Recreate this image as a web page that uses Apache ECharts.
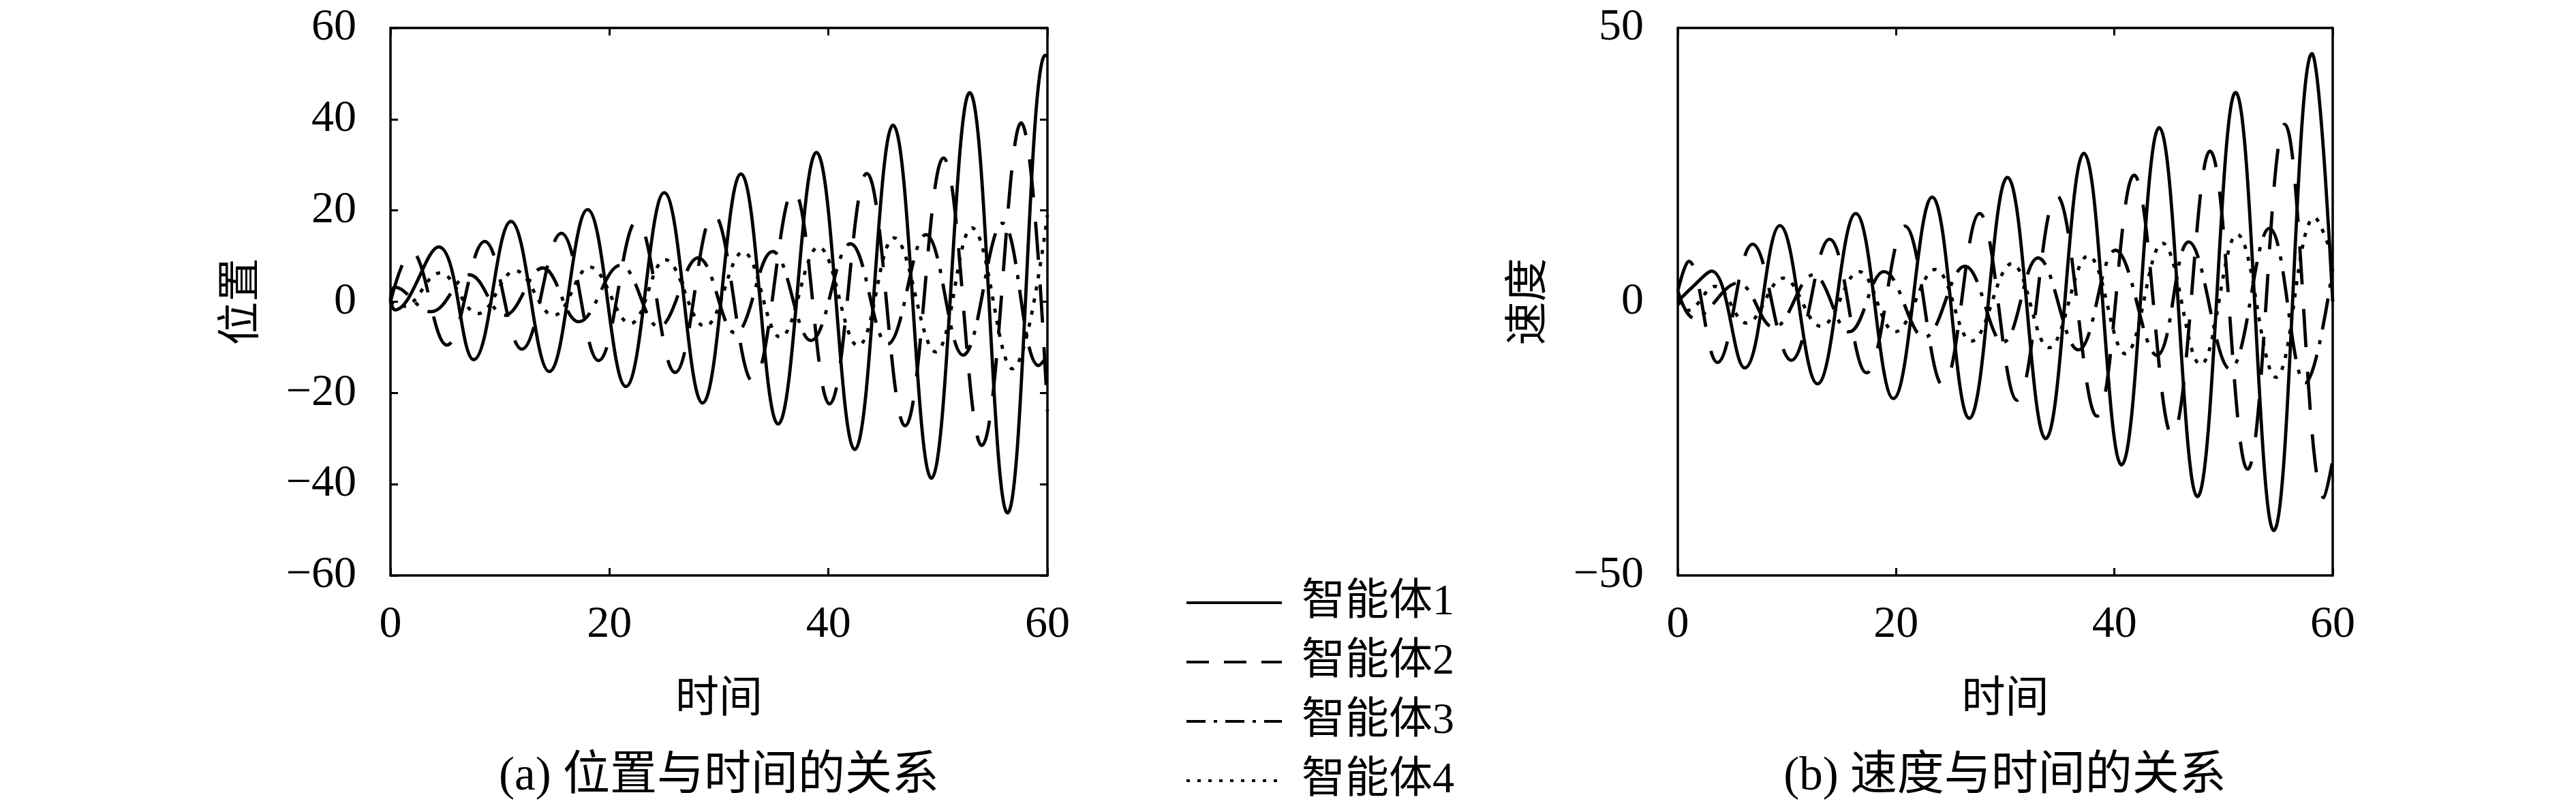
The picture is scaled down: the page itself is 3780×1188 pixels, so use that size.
<!DOCTYPE html>
<html>
<head>
<meta charset="utf-8">
<title>位置与速度</title>
<script src="https://cdn.jsdelivr.net/npm/echarts@6/dist/echarts.min.js"></script>
<style>
html, body { margin: 0; padding: 0; background: #fff; }
#main { width: 3780px; height: 1188px; }
</style>
</head>
<body>
<div id="main"></div>
<script>
// (a) 位置 —— 读取的峰谷点
const pos1T = [0, 0.4, 4.4, 7.6, 11.0, 14.5, 18.0, 21.5, 25.0, 28.5, 32.0, 35.4, 38.9, 42.4, 45.9, 49.4, 52.9, 56.35, 59.8, 60]
const pos1V = [0, -1.8, 12, -12.7, 17.6, -15.3, 20.2, -18.6, 23.9, -22.2, 28, -26.8, 32.7, -32.4, 38.7, -38.7, 45.8, -46.3, 54, 53.8]
const pos2T = [0, 1.9, 5.15, 8.6, 12.0, 15.6, 19.0, 22.5, 26.0, 29.5, 33.1, 36.8, 40.1, 43.5, 47.0, 50.5, 54.0, 57.6, 60]
const pos2V = [0, 11, -9.5, 13.2, -10.4, 15, -12.9, 17.7, -15.5, 19.2, -17.5, 24.4, -22.4, 28.1, -27.2, 31.5, -31.5, 39.2, -24]
const pos3T = [0, 0.4, 3.7, 7.2, 10.4, 13.9, 17.2, 21.0, 24.5, 28.1, 31.5, 34.9, 38.4, 42.0, 45.4, 48.9, 52.3, 55.9, 59.2, 60]
const pos3V = [0, 3.2, -2.2, 5.9, -3, 7.4, -4.4, 8, -5.5, 9.6, -6.9, 11, -8.5, 12.7, -9.3, 14.7, -11.7, 17.2, -14, -12]
const pos4T = [0, 1.2, 4.5, 8.0, 11.4, 14.9, 18.2, 21.9, 25.1, 28.7, 32.2, 35.6, 39.1, 42.7, 46.0, 49.8, 53.1, 56.8, 60]
const pos4V = [0, -1, 6.3, -2.6, 6.8, -3.0, 7.6, -4.8, 9.2, -5.4, 10.9, -7.8, 12, -9.7, 14, -11, 16.2, -14.7, 19]

// (b) 速度
const vel1T = [0, 1.3, 3.1, 6.13, 9.35, 12.8, 16.3, 19.75, 23.3, 26.7, 30.2, 33.7, 37.2, 40.65, 44.1, 47.6, 51.1, 54.6, 58.1, 60]
const vel1V = [0, 2.6, 5.6, -12.1, 13.9, -15.0, 16.1, -17.7, 19.1, -21.3, 22.7, -25, 27.1, -29.8, 31.8, -35.6, 38.2, -41.8, 45.3, 0]
const vel2T = [0, 1.0, 3.64, 6.86, 10.4, 13.9, 17.3, 20.8, 24.3, 27.65, 31.1, 34.7, 38.4, 41.8, 45.3, 48.76, 52.2, 55.6, 59.2, 60]
const vel2V = [2, 7.4, -11.1, 10.5, -10.7, 11.4, -13, 13.8, -15.3, 16.1, -18, 19.4, -20.9, 23.1, -24.4, 27.5, -30.6, 32.4, -35.8, -29]
const vel3T = [0, 1.5, 5.5, 8.8, 12.4, 15.7, 18.9, 22.6, 26.3, 29.8, 33.0, 36.7, 40.1, 43.9, 46.8, 50.6, 54.2, 57.5, 60]
const vel3V = [2, -3, 3.4, -4.7, 4.9, -5.5, 5.5, -6.5, 6.5, -7.4, 8, -8.8, 9.4, -9.8, 10.9, -12.3, 13.4, -14.8, 6]
const vel4T = [0, 0.9, 3.4, 6.3, 9.67, 13.1, 16.6, 19.9, 23.6, 26.9, 30.6, 34.0, 37.6, 41.0, 44.4, 47.9, 51.25, 54.8, 58.35, 60]
const vel4V = [0, -1.6, 2.8, -3.9, 4.3, -4.5, 5.5, -5.5, 5.9, -7.2, 6.95, -8.4, 8.4, -9.5, 10.7, -11.5, 12.3, -13.8, 15.4, 8]

const names = ['智能体1', '智能体2', '智能体3', '智能体4']
const captions = ['(a) 位置与时间的关系', '(b) 速度与时间的关系']
const yNames = ['位置', '速度']

const FONT = "'Liberation Serif', 'Noto Sans CJK SC', serif"
const zip = (t, v) => t.map((x, i) => [x, v[i]])
const minus = v => (v < 0 ? '\u2212' + Math.abs(v) : String(v))

const posData = [zip(pos1T, pos1V), zip(pos2T, pos2V), zip(pos3T, pos3V), zip(pos4T, pos4V)]
const velData = [zip(vel1T, vel1V), zip(vel2T, vel2V), zip(vel3T, vel3V), zip(vel4T, vel4V)]

// 线型：实线、虚线、点划线、点线
const plotDash = ['solid', [56, 36], [46, 16, 6, 16], [6, 12]]
const legendDash = ['solid', [33, 22], [28, 12, 5, 12], [5, 11]]

const frameLine = { show: true, onZero: false, lineStyle: { color: '#000', width: 3.5 } }
const tick = { show: true, inside: true, length: 11, lineStyle: { color: '#000', width: 3 } }
const noTick = { show: false }

function xAxes(grid) {
  return [
    {
      gridIndex: grid, type: 'value', min: 0, max: 60, interval: 20, position: 'bottom',
      axisLine: frameLine, axisTick: tick, splitLine: { show: false },
      axisLabel: { margin: 40, fontSize: 66, fontFamily: FONT, color: '#000' },
      name: '时间', nameLocation: 'middle', nameGap: 151,
      nameTextStyle: { fontSize: 64, fontFamily: FONT, color: '#000' }
    },
    {
      gridIndex: grid, type: 'value', min: 0, max: 60, interval: 20, position: 'top',
      axisLine: frameLine, axisTick: tick, splitLine: { show: false }, axisLabel: { show: false }
    }
  ]
}

function yAxes(grid, lim, step, showTick) {
  return [
    {
      gridIndex: grid, type: 'value', min: -lim, max: lim, interval: step, position: 'left',
      axisLine: frameLine, axisTick: showTick ? tick : noTick, splitLine: { show: false },
      axisLabel: { margin: 50, fontSize: 66, fontFamily: FONT, color: '#000', formatter: minus },
      name: yNames[grid], nameLocation: 'middle', nameGap: 185,
      nameTextStyle: { fontSize: 64, fontFamily: FONT, color: '#000' }
    },
    {
      gridIndex: grid, type: 'value', min: -lim, max: lim, interval: step, position: 'right',
      axisLine: frameLine, axisTick: showTick ? tick : noTick, splitLine: { show: false }, axisLabel: { show: false }
    }
  ]
}

const series = []
;[posData, velData].forEach((set, g) => {
  set.forEach((d, i) => {
    series.push({
      name: names[i], type: 'line', data: d,
      xAxisIndex: g * 2, yAxisIndex: g * 2,
      smooth: 0.4, symbol: 'none', showSymbol: false,
      itemStyle: { color: '#000' },
      lineStyle: { color: '#000', width: 4.8, type: plotDash[i] },
      emphasis: { disabled: true }
    })
  })
})

const chart = echarts.init(document.getElementById('main'))
chart.setOption({
  animation: false,
  backgroundColor: '#fff',
  grid: [
    { left: 573, top: 41, width: 964, height: 803 },
    { left: 2462, top: 41, width: 961, height: 803 }
  ],
  xAxis: [...xAxes(0), ...xAxes(1)],
  yAxis: [...yAxes(0, 60, 20, true), ...yAxes(1, 50, 50, false)],
  legend: {
    orient: 'vertical', left: 1734, top: 844,
    itemWidth: 140, itemHeight: 20, itemGap: 17,
    itemStyle: { color: 'rgba(0,0,0,0)', borderWidth: 0, opacity: 0 },
    textStyle: { fontSize: 64, fontFamily: FONT, color: '#000', lineHeight: 70, padding: [0, 0, 0, 24] },
    data: names.map((n, i) => ({ name: n, lineStyle: { type: legendDash[i], width: 4 } }))
  },
  graphic: captions.map((c, i) => ({
    type: 'text', x: i === 0 ? 1055 : 2942, y: 1140,
    style: { text: c, fontSize: 69, fontFamily: FONT, fill: '#000', align: 'center', verticalAlign: 'middle' }
  })),
  series
})
</script>
</body>
</html>
